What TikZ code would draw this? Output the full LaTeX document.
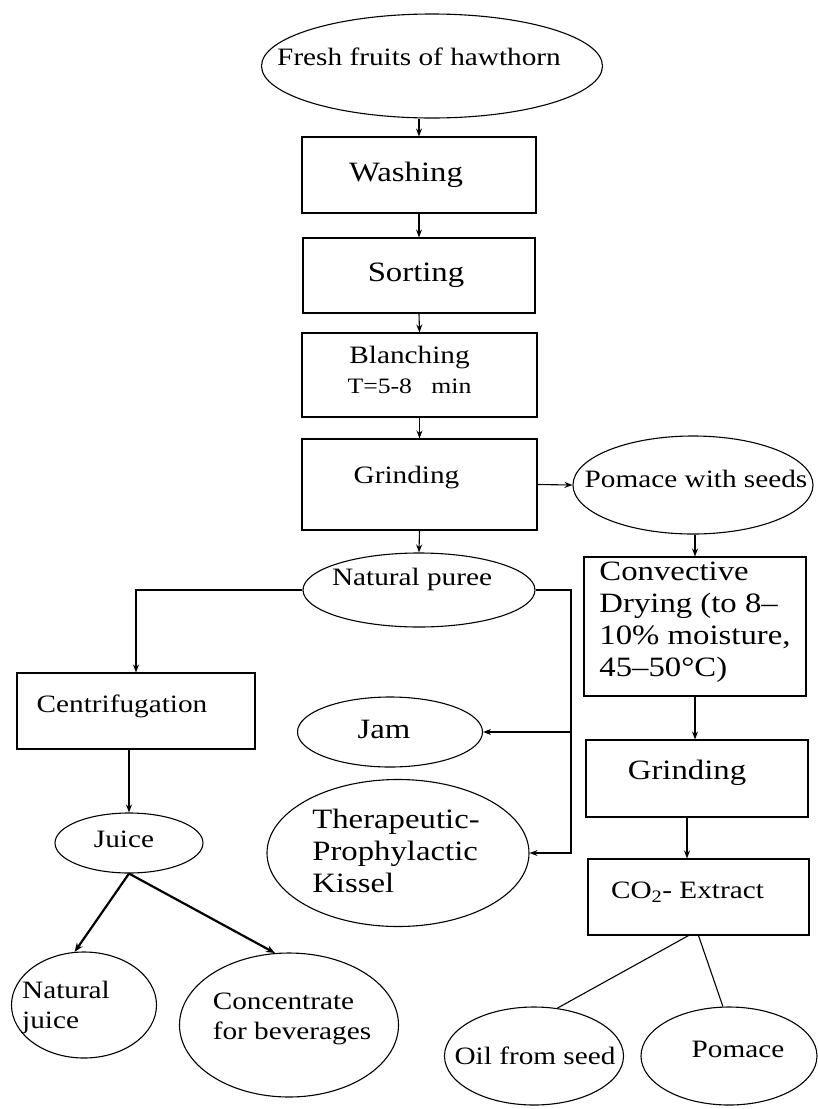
\documentclass[tikz,border=0pt]{standalone}
\usepackage{fontspec}
\setmainfont{Liberation Serif}[FakeStretch=1.17]
\usetikzlibrary{shapes.geometric,arrows.meta,calc}
\newcommand\fsA{\fontsize{25}{30}\selectfont}
\newcommand\fsB{\fontsize{28}{32}\selectfont}
\newcommand\fsC{\fontsize{22}{32}\selectfont}
\begin{document}
\begin{tikzpicture}[x=1pt,y=-1pt,
  base/.style={draw, line width=1.1pt, inner sep=0pt},
  box/.style={base, rectangle},
  oval/.style={base, ellipse},
  arr/.style={line width=1.1pt, -{Stealth[length=8pt,width=6pt]}},
  thickarr/.style={line width=2.2pt, -{Stealth[length=9pt,width=7pt]}},
  conn/.style={line width=1.1pt}]
\useasboundingbox (0,0) rectangle (818,1109);

% main column
\node[oval, minimum width=341pt, minimum height=104pt,
  label={[font=\fsA, yshift=9pt, xshift=-13pt]center:Fresh fruits of hawthorn}] (fresh) at (432,66) {};
\node[box, minimum width=234pt, minimum height=76pt,
  label={[font=\fsB, xshift=-13pt]center:Washing}] (wash) at (419,175) {};
\node[box, minimum width=232pt, minimum height=75pt,
  label={[font=\fsB, xshift=-3pt]center:Sorting}] (sort) at (419,275.5) {};
\node[box, minimum width=235pt, minimum height=84pt,
  label={[font=\fsA, align=center, yshift=5pt, xshift=-10pt]center:{Blanching\\{\fsC T=5-8\ \ \ min}}}] (blanch) at (419.5,375) {};
\node[box, minimum width=235pt, minimum height=91pt,
  label={[font=\fsA, yshift=7pt, xshift=-13pt]center:Grinding}] (grind1) at (419.5,484.5) {};
\node[oval, minimum width=232pt, minimum height=74pt,
  label={[font=\fsA, yshift=11pt, xshift=-7pt]center:Natural puree}] (puree) at (419,590) {};

% right branch
\node[oval, minimum width=240pt, minimum height=98pt,
  label={[font=\fsA, yshift=6pt, xshift=3pt]center:Pomace with seeds}] (pomace) at (693,485) {};
\node[box, minimum width=222pt, minimum height=139pt,
  label={[font=\fsB, align=left, yshift=4pt]center:{Convective\\Drying (to 8–\\10\% moisture,\\45–50°C)}}] (conv) at (695,626.5) {};
\node[box, minimum width=222pt, minimum height=77pt,
  label={[font=\fsB, yshift=6pt, xshift=-10pt]center:Grinding}] (grind2) at (697,778.5) {};
\node[box, minimum width=221pt, minimum height=76pt,
  label={[font=\fsA, yshift=5pt, xshift=-11pt]center:{CO\textsubscript{2}- Extract}}] (co2) at (698.5,897) {};
\node[oval, minimum width=179pt, minimum height=98pt,
  label={[font=\fsA, xshift=1pt]center:Oil from seed}] (oil) at (534,1056) {};
\node[oval, minimum width=176pt, minimum height=98pt,
  label={[font=\fsA, yshift=7pt, xshift=9pt]center:Pomace}] (pom2) at (729,1056) {};

% middle products
\node[oval, minimum width=185pt, minimum height=70pt,
  label={[font=\fsB, yshift=3pt, xshift=-6pt]center:Jam}] (jam) at (390,732) {};
\node[oval, minimum width=262pt, minimum height=147pt,
  label={[font=\fsB, align=left, yshift=2pt, xshift=-2pt]center:{Therapeutic-\\Prophylactic\\Kissel}}] (kissel) at (398,853) {};

% left branch
\node[box, minimum width=238pt, minimum height=76pt,
  label={[font=\fsA, yshift=5pt, xshift=-14pt]center:Centrifugation}] (centr) at (136,711) {};
\node[oval, minimum width=148pt, minimum height=60pt,
  label={[font=\fsA, yshift=4pt, xshift=-5pt]center:Juice}] (juice) at (129,843) {};
\node[oval, minimum width=145pt, minimum height=106pt,
  label={[font=\fsA, align=left, yshift=-2pt, xshift=-18pt]center:{Natural\\juice}}] (njuice) at (84,1005) {};
\node[oval, minimum width=219pt, minimum height=144pt,
  label={[font=\fsA, align=left, yshift=6pt, xshift=3pt]center:{Concentrate\\for beverages}}] (conc) at (289,1025) {};

\coordinate (bus) at (571,590);

% connectors
\draw[arr] (wash.north |- fresh.south) -- (wash.north);
\draw[arr] (wash.south) -- (sort.north);
\draw[arr] (sort.south) -- (blanch.north);
\draw[arr] (blanch.south) -- (grind1.north);
\draw[arr] (grind1.east) -- (pomace.west);
\draw[arr] (grind1.south) -- (puree.north);
\draw[arr] (conv.north |- pomace.south) -- (conv.north);
\draw[arr] (conv.south) -- (conv.south |- grind2.north);
\draw[arr] ([xshift=-10pt]grind2.south) -- ([xshift=-10pt]grind2.south |- co2.north);
\draw[conn] ([xshift=-10pt]co2.south) -- (oil.64);
\draw[conn] (co2.south) -- (pom2.97);
\draw[arr] (puree.west) -| (centr.north);
\draw[arr] (puree.east) -| (bus |- jam.east) -- (jam.east);
\draw[arr] (bus |- jam.east) |- (kissel.east);
\draw[arr] (juice.north |- centr.south) -- (juice.north);
\draw[thickarr] (juice.south) -- (njuice.100);
\draw[thickarr] (juice.south) -- (conc.101);
\end{tikzpicture}
\end{document}
